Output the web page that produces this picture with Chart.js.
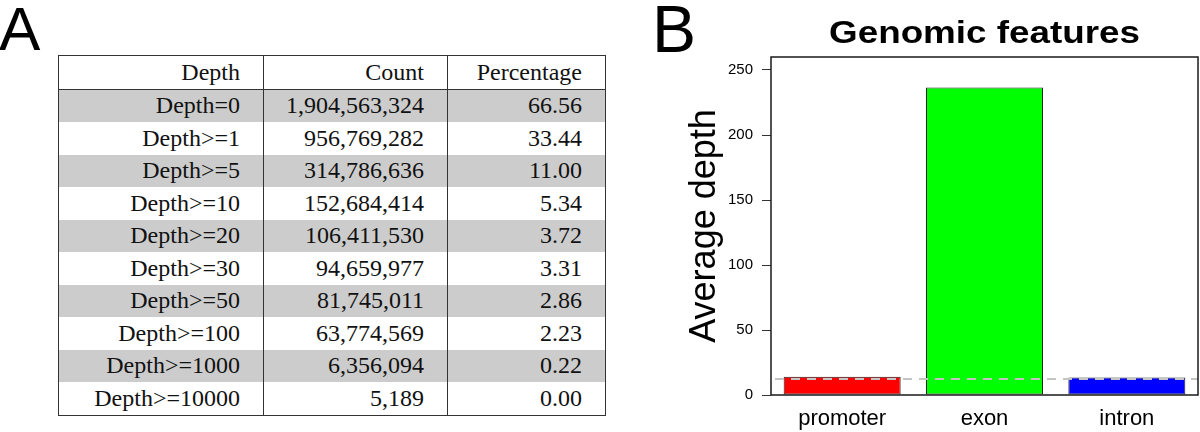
<!DOCTYPE html>
<html>
<head>
<meta charset="utf-8">
<script src="https://cdn.jsdelivr.net/npm/chart.js"></script>
<style>
  body { margin: 0; width: 1200px; height: 432px; background: #fff; position: relative; overflow: hidden; }
  .panel-label { position: absolute; top: -4px; font-family: "Liberation Sans", Arial, sans-serif; font-size: 66px; line-height: 66px; color: #000; }
  #depthTable { position: absolute; left: 58px; top: 55px; border-collapse: collapse; table-layout: fixed;
    font-family: "Liberation Serif", "Times New Roman", serif; font-size: 24px; color: #111; border: 1.5px solid #333; }
  #depthTable td { height: 32.5px; padding: 0 23px 0 0; text-align: right; border-left: 1.5px solid #333; white-space: nowrap; }
  #depthTable tr.head td { border-bottom: 1.5px solid #333; }
  #depthTable tr.shade td { background: #cccccc; }
  #chartBox { position: absolute; left: 640px; top: 0; }
</style>
</head>
<body>
<div class="panel-label" style="left:-1px;font-size:62px">A</div>
<div class="panel-label" style="left:652px">B</div>

<table id="depthTable">
  <colgroup><col style="width:205px"><col style="width:184px"><col style="width:158px"></colgroup>
  <tbody></tbody>
</table>

<canvas id="chartBox" width="560" height="432"></canvas>

<script>
// panel A data
const tableHeader = ['Depth', 'Count', 'Percentage'];
const depthLabels = ['Depth=0', 'Depth>=1', 'Depth>=5', 'Depth>=10', 'Depth>=20',
                     'Depth>=30', 'Depth>=50', 'Depth>=100', 'Depth>=1000', 'Depth>=10000'];
const depthCounts = [1904563324, 956769282, 314786636, 152684414, 106411530,
                     94659977, 81745011, 63774569, 6356094, 5189];
const depthPercents = [66.56, 33.44, 11.00, 5.34, 3.72, 3.31, 2.86, 2.23, 0.22, 0.00];

// panel B data
const chartTitle = 'Genomic features';
const features = ['promoter', 'exon', 'intron'];
const avgDepth = [14.0, 236.5, 13.5];
const overallDepth = 12.3;
const yTicks = [0, 50, 100, 150, 200, 250];
const barColors = ['#ff0000', '#00ff00', '#0000ff'];

// table
const body = document.querySelector('#depthTable tbody');
function addRow(cells, cls) {
  const tr = document.createElement('tr');
  if (cls) tr.className = cls;
  cells.forEach(c => {
    const td = document.createElement('td');
    td.textContent = c;
    tr.appendChild(td);
  });
  body.appendChild(tr);
}
addRow(tableHeader, 'head');
depthLabels.forEach((lab, i) => {
  addRow([lab, depthCounts[i].toLocaleString('en-US'), depthPercents[i].toFixed(2)],
         i % 2 === 0 ? 'shade' : '');
});

// box, reference line and title
const framePlugin = {
  id: 'frame',
  afterDatasetsDraw(chart) {
    const {ctx, chartArea: a, scales: {y}} = chart;
    const yy = y.getPixelForValue(overallDepth);
    ctx.save();
    ctx.strokeStyle = '#c4c4c4';
    ctx.lineWidth = 2;
    ctx.setLineDash([9, 7]);
    ctx.beginPath();
    ctx.moveTo(a.left + 4, yy);
    ctx.lineTo(a.right, yy);
    ctx.stroke();
    ctx.restore();
  },
  afterDraw(chart) {
    const {ctx, chartArea: a} = chart;
    ctx.save();
    ctx.strokeStyle = '#1a1a1a';
    ctx.lineWidth = 1.5;
    ctx.strokeRect(a.left, a.top, a.right - a.left, a.bottom - a.top);
    ctx.fillStyle = '#000';
    ctx.font = 'bold 32px "Liberation Sans", Arial, sans-serif';
    ctx.textAlign = 'center';
    ctx.textBaseline = 'alphabetic';
    ctx.translate((a.left + a.right) / 2, 43);
    ctx.scale(1.15, 1);
    ctx.fillText(chartTitle, 0, 0);
    ctx.restore();
  }
};

const ctx = document.getElementById('chartBox').getContext('2d');
const depthChart = new Chart(ctx, {
  type: 'bar',
  data: {
    labels: features,
    datasets: [{
      label: 'Average depth',
      data: avgDepth,
      backgroundColor: barColors,
      borderColor: '#222',
      borderWidth: 1,
      borderSkipped: false,
      barPercentage: 0.822,
      categoryPercentage: 1
    }]
  },
  options: {
    responsive: false,
    animation: false,
    layout: { padding: { top: 57, right: 2, left: 0, bottom: 0 } },
    plugins: { legend: { display: false }, tooltip: { enabled: false } },
    scales: {
      x: {
        grid: { display: false, drawTicks: false },
        border: { display: false },
        ticks: { color: '#000', padding: 11, font: { family: '"Liberation Sans", Arial, sans-serif', size: 22 } },
        afterFit: s => { s.height = 37; }
      },
      y: {
        min: 0,
        max: 260,
        grid: { drawOnChartArea: false, drawTicks: true, tickLength: 9, tickColor: '#333', color: '#333' },
        border: { display: false },
        ticks: { color: '#000', padding: 9, includeBounds: false, font: { family: '"Liberation Sans", Arial, sans-serif', size: 15 } },
        afterBuildTicks: s => { s.ticks = yTicks.map(v => ({ value: v })); },
        title: {
          display: true,
          text: 'Average depth',
          color: '#000',
          padding: { top: 43, bottom: 0 },
          font: { family: '"Liberation Sans", Arial, sans-serif', size: 36 }
        },
        afterFit: s => { s.width = 131; }
      }
    }
  },
  plugins: [framePlugin]
});
</script>
</body>
</html>
